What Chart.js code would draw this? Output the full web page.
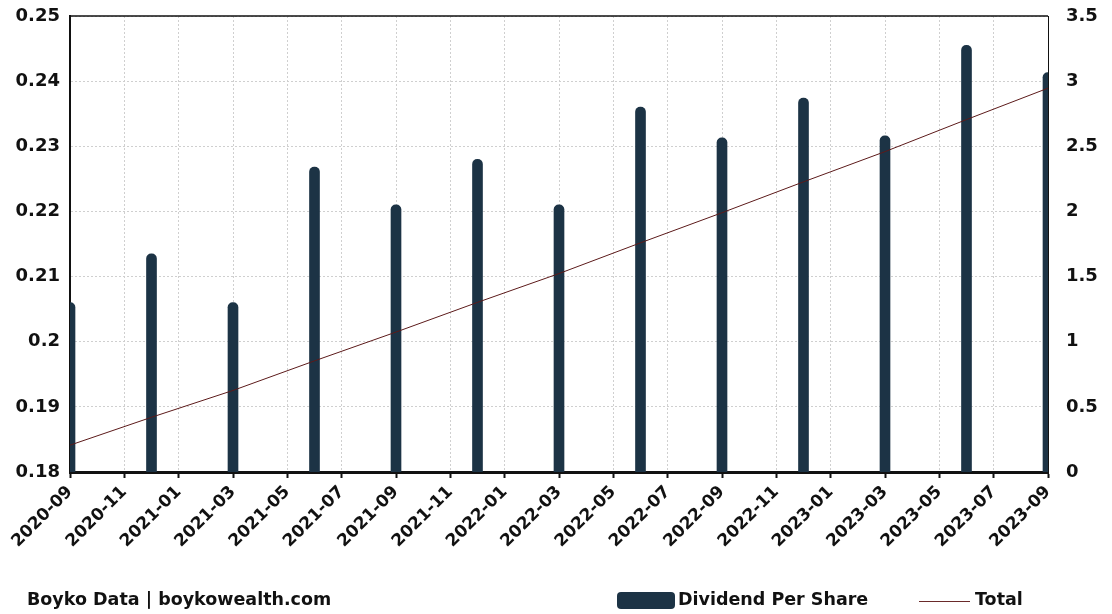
<!DOCTYPE html>
<html>
<head>
<meta charset="utf-8">
<script src="https://cdn.jsdelivr.net/npm/chart.js@4.4.1/dist/chart.umd.min.js"></script>
<style>
    body { margin: 0; background: #fff; font-family: "DejaVu Sans", sans-serif; }
    #wrap { position: relative; width: 1112px; height: 614px; }
    #footer-left { position: absolute; left: 27px; top: 589px; font-size: 17.5px; font-weight: bold; color: #111; }
    .legend-item { position: absolute; top: 589px; font-size: 17.5px; font-weight: bold; color: #111; }
    .swatch-box { position: absolute; left: 617px; top: 592px; width: 58px; height: 17px; background: #1c3345; border-radius: 4px; }
    .swatch-line { position: absolute; left: 919px; top: 601px; width: 51px; height: 1px; background: #6a2a2a; }
</style>
</head>
<body>
<div id="wrap">
    <canvas id="divChart" width="1112" height="614"></canvas>
    <div id="footer-left">Boyko Data | boykowealth.com</div>
    <div class="swatch-box"></div>
    <div class="legend-item" style="left:678px">Dividend Per Share</div>
    <div class="swatch-line"></div>
    <div class="legend-item" style="left:975px">Total</div>
</div>
<script>
Chart.defaults.color = "#111";
Chart.defaults.font.family = "'DejaVu Sans', sans-serif";
Chart.defaults.font.weight = "bold";

// payment months (first of month)
const payDates = ["2020-09", "2020-12", "2021-03", "2021-06", "2021-09", "2021-12", "2022-03",
    "2022-06", "2022-09", "2022-12", "2023-03", "2023-06", "2023-09"];
const dividendPerShare = [0.206, 0.2135, 0.206, 0.2268, 0.221, 0.228, 0.221,
    0.236, 0.2313, 0.2374, 0.2316, 0.2455, 0.2413];
const totalDividends = [0.206, 0.42, 0.626, 0.853, 1.074, 1.302, 1.523,
    1.759, 1.99, 2.227, 2.459, 2.705, 2.946];
const startMonth = "2020-09";
const endMonth = "2023-09";

function monthIndex(s) {
    let [y, m] = s.split("-").map(Number);
    let [y0, m0] = startMonth.split("-").map(Number);
    return (y - y0) * 12 + (m - m0);
}
function monthLabel(i) {
    let [y0, m0] = startMonth.split("-").map(Number);
    let t = y0 * 12 + (m0 - 1) + i;
    let y = Math.floor(t / 12), m = t % 12 + 1;
    return y + "-" + String(m).padStart(2, "0");
}
const plainNum = v => String(Math.round(v * 1000) / 1000);

// top frame line
const topBorder = {
    id: "topBorder",
    afterDraw(chart) {
        const { ctx, chartArea } = chart;
        ctx.save();
        ctx.strokeStyle = "#111";
        ctx.lineWidth = 1.5;
        ctx.beginPath();
        ctx.moveTo(chartArea.left, chartArea.top);
        ctx.lineTo(chartArea.right, chartArea.top);
        ctx.stroke();
        ctx.restore();
    }
};

const ctx = document.getElementById("divChart").getContext("2d");
new Chart(ctx, {
    type: "bar",
    data: {
        datasets: [{
            type: "line",
            label: "Total",
            data: payDates.map((d, i) => ({ x: monthIndex(d), y: totalDividends[i] })),
            yAxisID: "y1",
            borderColor: "#5c1a1a",
            borderWidth: 1,
            pointRadius: 0,
            tension: 0
        }, {
            label: "Dividend Per Share",
            data: payDates.map((d, i) => ({ x: monthIndex(d), y: dividendPerShare[i] })),
            yAxisID: "y",
            backgroundColor: "#1c3345",
            barThickness: 10,
            borderRadius: 5,
            borderSkipped: "start"
        }]
    },
    options: {
        responsive: false,
        animation: false,
        layout: { padding: { top: 16, bottom: 52 } },
        plugins: {
            legend: { display: false },
            tooltip: { enabled: false }
        },
        scales: {
            x: {
                type: "linear",
                min: monthIndex(startMonth),
                max: monthIndex(endMonth),
                offset: false,
                afterFit: s => { s.height = 90; },
                ticks: {
                    stepSize: 2,
                    autoSkip: false,
                    minRotation: 45,
                    maxRotation: 45,
                    padding: 4,
                    font: { size: 17, weight: "bold" },
                    callback: v => monthLabel(v)
                },
                grid: {
                    color: "#cfcfcf",
                    tickColor: "#111",
                    tickBorderDash: [],
                    tickWidth: 2,
                    tickLength: 6,
                    offset: false
                },
                border: { color: "#111", width: 3, dash: [2, 2] }
            },
            y: {
                position: "left",
                min: 0.18,
                max: 0.25,
                afterFit: s => { s.width = 70; s.paddingTop = 0; s.paddingBottom = 0; },
                ticks: { stepSize: 0.01, padding: 10, font: { size: 18, weight: "bold" }, callback: plainNum },
                grid: { color: "#cfcfcf", drawTicks: false },
                border: { color: "#111", width: 2, dash: [2, 2] }
            },
            y1: {
                position: "right",
                min: 0,
                max: 3.5,
                afterFit: s => { s.width = 64; s.paddingTop = 0; s.paddingBottom = 0; },
                ticks: { stepSize: 0.5, padding: 18, font: { size: 18, weight: "bold" }, callback: plainNum },
                grid: { drawOnChartArea: false, drawTicks: false },
                border: { color: "#111", width: 1 }
            }
        }
    },
    plugins: [topBorder]
});
</script>
</body>
</html>
